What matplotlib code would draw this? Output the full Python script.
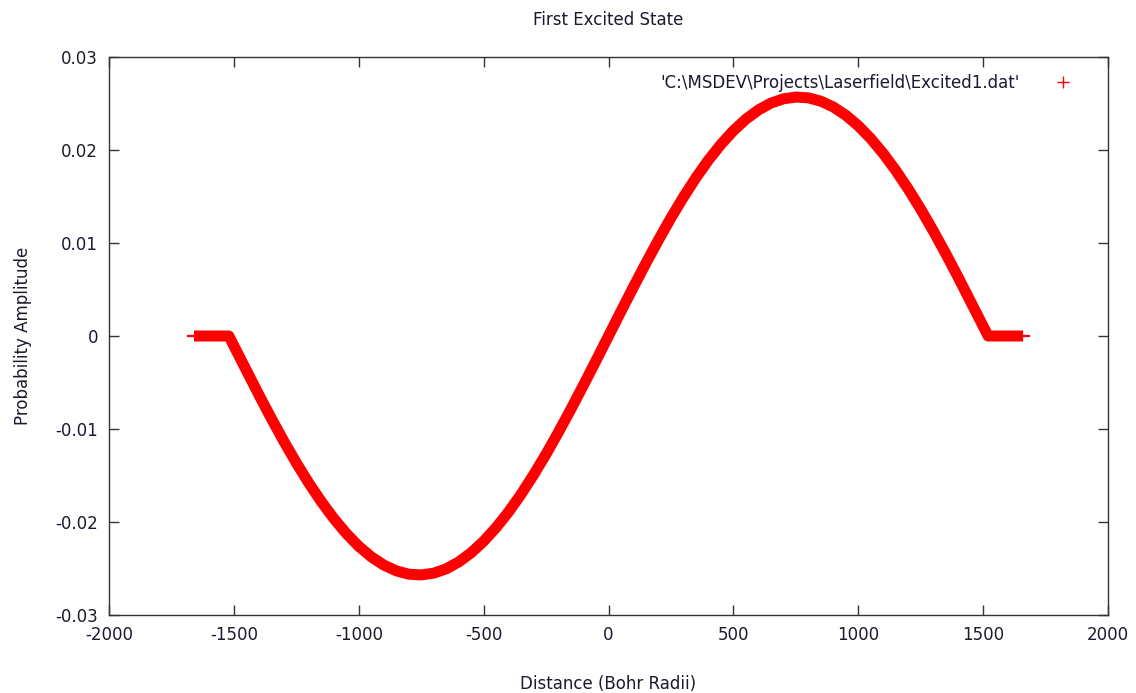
import matplotlib
matplotlib.use("Agg")
import matplotlib.pyplot as plt
from matplotlib.lines import Line2D

# values
distance = [-1660, -1600, -1520,
            -1500, -1450, -1400, -1350, -1300, -1250, -1200, -1150, -1100, -1050,
            -1000, -950, -900, -850, -800, -750, -700, -650, -600, -550,
            -500, -450, -400, -350, -300, -250, -200, -150, -100, -50,
            0, 50, 100, 150, 200, 250, 300, 350, 400, 450,
            500, 550, 600, 650, 700, 750, 800, 850, 900, 950,
            1000, 1050, 1100, 1150, 1200, 1250, 1300, 1350, 1400, 1450,
            1500, 1520, 1600, 1660]
amplitude = [0.0, 0.0, 0.0,
             -0.00106, -0.00369, -0.00632, -0.00887, -0.01132, -0.01364, -0.01581, -0.01781, -0.01962, -0.02123,
             -0.02261, -0.02374, -0.02463, -0.02525, -0.02561, -0.02569, -0.02550, -0.02504, -0.02430, -0.02331,
             -0.02207, -0.02060, -0.01891, -0.01701, -0.01493, -0.01270, -0.01032, -0.00784, -0.00527, -0.00265,
             0.0, 0.00265, 0.00527, 0.00784, 0.01032, 0.01270, 0.01493, 0.01701, 0.01891, 0.02060,
             0.02207, 0.02331, 0.02430, 0.02504, 0.02550, 0.02569, 0.02561, 0.02525, 0.02463, 0.02374,
             0.02261, 0.02123, 0.01962, 0.01781, 0.01581, 0.01364, 0.01132, 0.00887, 0.00632, 0.00369,
             0.00106, 0.0, 0.0, 0.0]

x_ticks = [-2000, -1500, -1000, -500, 0, 500, 1000, 1500, 2000]
y_ticks = [-0.03, -0.02, -0.01, 0, 0.01, 0.02, 0.03]
y_labels = ["-0.03", "-0.02", "-0.01", "0", "0.01", "0.02", "0.03"]
legend_label = "'C:\\MSDEV\\Projects\\Laserfield\\Excited1.dat'"

plt.rcParams['font.family'] = ['DejaVu Sans']
text_color = "#1a1a2e"

fig = plt.figure(figsize=(11.36, 6.93), dpi=100)
ax = fig.add_axes([109 / 1136, 1 - 615 / 693, 999 / 1136, 558 / 693])

# thick band of dense '+' points
ax.plot(distance, amplitude, color="red", lw=7.9, solid_capstyle="butt",
        solid_joinstyle="round")
# horizontal arms of the outermost '+' points stick out of the band
ax.plot([distance[0], distance[-1]], [amplitude[0], amplitude[-1]], linestyle="none",
        marker="_", color="red", markersize=10.5, markeredgewidth=1.6)

ax.set_xlim(-2000, 2000)
ax.set_ylim(-0.03, 0.03)
ax.set_xticks(x_ticks)
ax.set_xticklabels([str(t) for t in x_ticks])
ax.set_yticks(y_ticks)
ax.set_yticklabels(y_labels)

ax.tick_params(direction="in", length=7, width=1, top=True, right=True,
               labelsize=12, colors="#333333", labelcolor=text_color, pad=8)
for s in ax.spines.values():
    s.set_color("#333333")
    s.set_linewidth(1)

ax.set_title("First Excited State", fontsize=12, color=text_color, pad=23)
ax.set_xlabel("Distance (Bohr Radii)", fontsize=12, color=text_color, labelpad=22)
ax.set_ylabel("Probability Amplitude", fontsize=12, color=text_color, labelpad=17)

handle = Line2D([], [], color="red", marker="+", linestyle="none",
                markersize=8, markeredgewidth=1)
ax.legend([handle], [legend_label], loc="upper right", frameon=False,
          markerfirst=False, fontsize=12, labelcolor=text_color,
          bbox_to_anchor=(0.988, 1.0), handletextpad=1.6, borderpad=0.5)

fig.savefig("out.png", dpi=100)
